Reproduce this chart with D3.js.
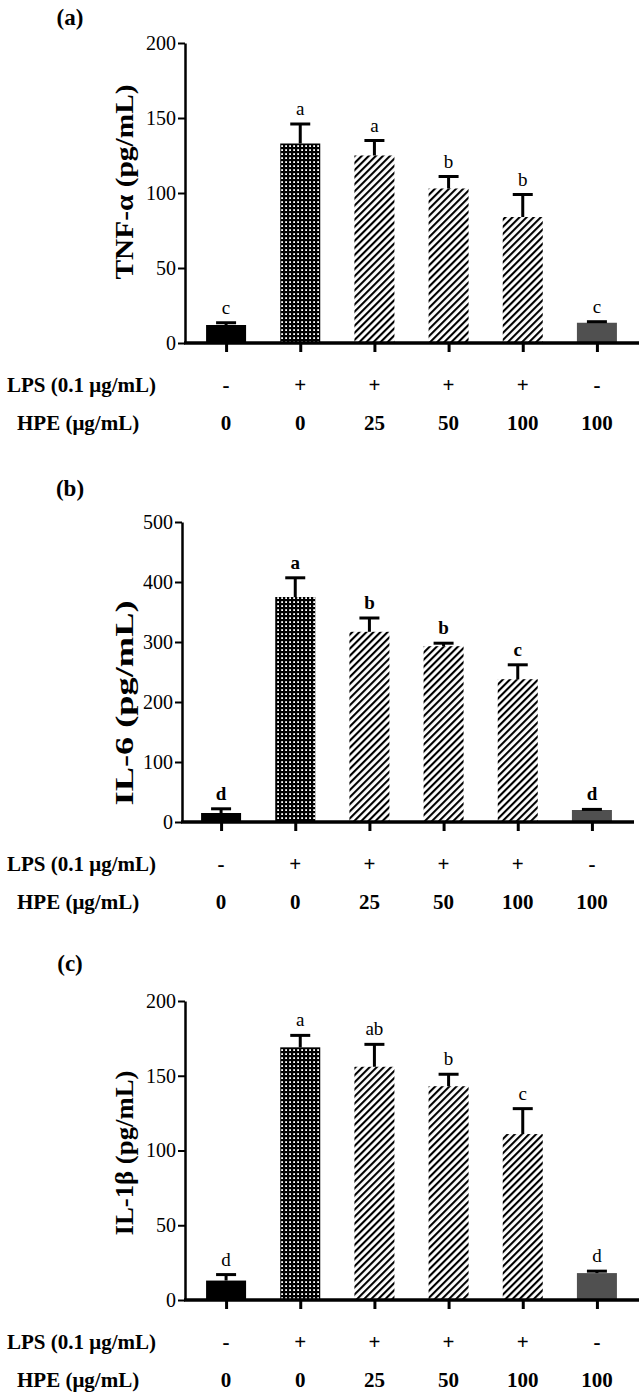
<!DOCTYPE html>
<html>
<head>
<meta charset="utf-8">
<script src="https://cdn.jsdelivr.net/npm/d3@7"></script>
<style>
  body { margin: 0; background: #fff; }
  svg text { font-family: "Liberation Serif", "Times New Roman", serif; fill: #000; }
</style>
</head>
<body>
<script>
const width = 642;
const height = 1393;
const serif = "'Liberation Serif', 'Times New Roman', serif";

// treatment groups and the two label rows under each chart
const groups = ["ctrl", "lps", "lps25", "lps50", "lps100", "hpe100"];
const lpsRow = ["-", "+", "+", "+", "+", "-"];
const hpeRow = ["0", "0", "25", "50", "100", "100"];

// (a) TNF-alpha
const tnfMean = [12, 133, 125, 103, 84, 13.5];
const tnfErr = [1.5, 13, 10, 8, 15, 0.7];
const tnfSig = ["c", "a", "a", "b", "b", "c"];

// (b) IL-6
const il6Mean = [15, 375, 317, 293, 238, 20];
const il6Err = [7, 32, 23, 5, 24, 1];
const il6Sig = ["d", "a", "b", "b", "c", "d"];

// (c) IL-1beta
const il1bMean = [13, 169, 156, 143, 111, 18];
const il1bErr = [4, 8, 15, 8, 17, 1.3];
const il1bSig = ["d", "a", "ab", "b", "c", "d"];

const barFill = ["#000", "url(#dots)", "url(#hatch)", "url(#hatch)", "url(#hatch)", "#505050"];

const svg = d3.select("body")
  .append("svg")
  .attr("width", width)
  .attr("height", height);

// fill patterns
const defs = svg.append("defs");
const dots = defs.append("pattern")
  .attr("id", "dots")
  .attr("patternUnits", "userSpaceOnUse")
  .attr("width", 4)
  .attr("height", 4);
dots.append("rect").attr("width", 4).attr("height", 4).attr("fill", "#000");
dots.append("rect").attr("x", 1.2).attr("y", 1.2).attr("width", 1.8).attr("height", 1.8).attr("fill", "#fff");

const hatch = defs.append("pattern")
  .attr("id", "hatch")
  .attr("patternUnits", "userSpaceOnUse")
  .attr("width", 5)
  .attr("height", 5)
  .attr("patternTransform", "rotate(45)");
hatch.append("rect").attr("width", 5).attr("height", 5).attr("fill", "#fff");
hatch.append("line")
  .attr("x1", 1).attr("y1", 0).attr("x2", 1).attr("y2", 5)
  .attr("stroke", "#000").attr("stroke-width", 2.2);

const panels = [
  { tag: "(a)", tagY: 17, title: "TNF-α (pg/mL)", titleY: 182, titleLen: 195,
    mean: tnfMean, err: tnfErr, sig: tnfSig, max: 200, step: 50,
    top: 43, zero: 343, axisX: 185, x0: 189, x1: 634, xEnd: 639 },
  { tag: "(b)", tagY: 488, title: "IL-6 (pg/mL)", titleY: 703, titleLen: 205,
    mean: il6Mean, err: il6Err, sig: il6Sig, max: 500, step: 100,
    top: 522, zero: 822, axisX: 182, x0: 184, x1: 629, xEnd: 634 },
  { tag: "(c)", tagY: 963, title: "IL-1β (pg/mL)", titleY: 1153, titleLen: 165,
    mean: il1bMean, err: il1bErr, sig: il1bSig, max: 200, step: 50,
    top: 1001, zero: 1300, axisX: 185, x0: 189, x1: 634, xEnd: 639 }
];

panels.forEach(p => {
  const g = svg.append("g");
  const x = d3.scalePoint().domain(groups).range([p.x0, p.x1]).padding(0.5);
  const y = d3.scaleLinear().domain([0, p.max]).range([p.zero, p.top]);
  const barW = 40;

  // bars
  g.selectAll("rect.bar")
    .data(groups)
    .join("rect")
    .attr("class", "bar")
    .attr("x", d => x(d) - barW / 2)
    .attr("width", barW)
    .attr("y", (d, i) => y(p.mean[i]))
    .attr("height", (d, i) => p.zero - y(p.mean[i]))
    .attr("fill", (d, i) => barFill[i]);

  // error bars (upper half only)
  g.selectAll("line.err")
    .data(groups)
    .join("line")
    .attr("class", "err")
    .attr("x1", d => x(d)).attr("x2", d => x(d))
    .attr("y1", (d, i) => y(p.mean[i]))
    .attr("y2", (d, i) => y(p.mean[i] + p.err[i]))
    .attr("stroke", "#000").attr("stroke-width", 3);
  g.selectAll("line.cap")
    .data(groups)
    .join("line")
    .attr("class", "cap")
    .attr("x1", d => x(d) - 10).attr("x2", d => x(d) + 10)
    .attr("y1", (d, i) => y(p.mean[i] + p.err[i]))
    .attr("y2", (d, i) => y(p.mean[i] + p.err[i]))
    .attr("stroke", "#000").attr("stroke-width", 3);

  // significance letters
  g.selectAll("text.sig")
    .data(groups)
    .join("text")
    .attr("class", "sig")
    .attr("x", d => x(d))
    .attr("y", (d, i) => y(p.mean[i] + p.err[i]) - 9)
    .attr("text-anchor", "middle")
    .style("font-family", serif)
    .style("font-size", "19px")
    .style("font-weight", p.tag === "(b)" ? "bold" : "normal")
    .text((d, i) => p.sig[i]);

  // y axis
  const yAxis = g.append("g")
    .attr("transform", `translate(${p.axisX},0)`)
    .call(d3.axisLeft(y)
      .tickValues(d3.range(0, p.max + 1, p.step))
      .tickSize(7)
      .tickPadding(2)
      .tickSizeOuter(0));
  yAxis.select(".domain").attr("stroke-width", 2.5);
  yAxis.selectAll(".tick line").attr("stroke-width", 2);
  yAxis.selectAll(".tick text")
    .style("font-size", "20px")
    .style("font-family", serif);

  // x axis: thick baseline and ticks under each bar
  g.append("line")
    .attr("x1", p.axisX - 1).attr("x2", p.xEnd)
    .attr("y1", p.zero).attr("y2", p.zero)
    .attr("stroke", "#000").attr("stroke-width", 3.5);
  const xAxis = g.append("g")
    .attr("transform", `translate(0,${p.zero})`)
    .call(d3.axisBottom(x).tickSize(9).tickFormat(""));
  xAxis.select(".domain").remove();
  xAxis.selectAll(".tick line").attr("stroke-width", 3);

  // treatment rows
  const rows = [
    { label: "LPS (0.1 μg/mL)", lx: 7, dy: 42, vals: lpsRow },
    { label: "HPE (μg/mL)", lx: 17, dy: 80, vals: hpeRow }
  ];
  rows.forEach(r => {
    g.append("text")
      .attr("x", r.lx)
      .attr("y", p.zero + r.dy)
      .attr("dominant-baseline", "central")
      .style("font-family", serif)
      .style("font-size", "21px")
      .style("font-weight", "bold")
      .text(r.label);
    g.selectAll(null)
      .data(groups)
      .join("text")
      .attr("x", d => x(d))
      .attr("y", p.zero + r.dy)
      .attr("text-anchor", "middle")
      .attr("dominant-baseline", "central")
      .style("font-family", serif)
      .style("font-size", "21px")
      .style("font-weight", "bold")
      .text((d, i) => r.vals[i]);
  });

  // y title
  g.append("text")
    .attr("transform", `translate(124,${p.titleY}) rotate(-90)`)
    .attr("text-anchor", "middle")
    .attr("dominant-baseline", "central")
    .attr("textLength", p.titleLen)
    .attr("lengthAdjust", "spacingAndGlyphs")
    .style("font-family", serif)
    .style("font-size", "25px")
    .style("font-weight", "bold")
    .text(p.title);

  // panel tag
  g.append("text")
    .attr("x", 70)
    .attr("y", p.tagY)
    .attr("text-anchor", "middle")
    .attr("dominant-baseline", "central")
    .style("font-family", serif)
    .style("font-size", "23px")
    .style("font-weight", "bold")
    .text(p.tag);
});
</script>
</body>
</html>
